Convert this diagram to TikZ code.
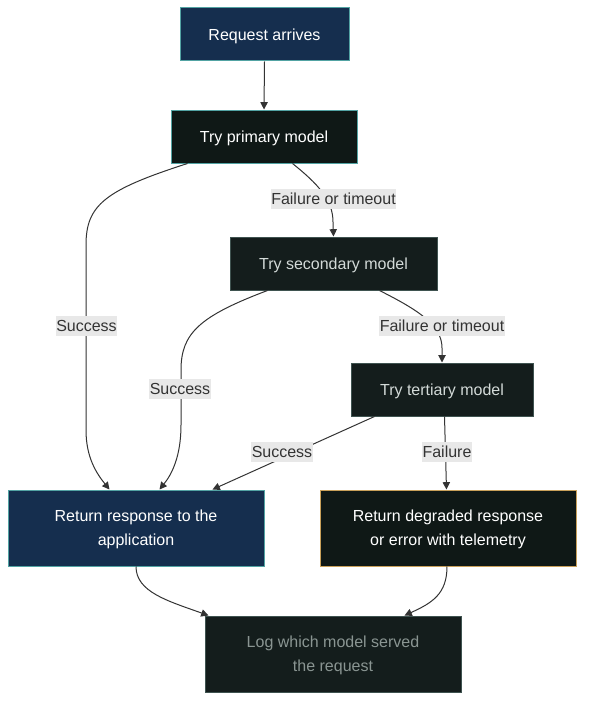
\documentclass[tikz,border=0pt]{standalone}
\usepackage{fontspec}
\setmainfont{Liberation Sans}
\usetikzlibrary{calc,arrows.meta}
\definecolor{navy}{HTML}{152E4E}
\definecolor{teal}{HTML}{52A3A3}
\definecolor{darkA}{HTML}{0F1816}
\definecolor{darkB}{HTML}{141D1C}
\definecolor{grayborder}{HTML}{3F5350}
\definecolor{gold}{HTML}{C9A05A}
\definecolor{logtext}{HTML}{8A9592}
\definecolor{lighttext}{HTML}{D3DAD8}
\definecolor{edgecol}{HTML}{333333}
\definecolor{lblbg}{HTML}{E8E8E8}
\tikzset{
  box/.style={rectangle, inner sep=0pt, line width=0.75pt, align=center,
    font=\fontsize{12}{18}\selectfont, minimum height=39.75pt,
    text height=8.6pt, text depth=0pt},
  tallbox/.style={box, minimum width=192pt, minimum height=57pt,
    text height=26.6pt, text depth=0pt},
  navybox/.style={fill=navy, draw=teal, text=white},
  primbox/.style={fill=darkA, draw=teal, text=white},
  grbox/.style={fill=darkB, draw=grayborder, text=lighttext},
  degbox/.style={fill=darkA, draw=gold, text=white},
  logbox/.style={fill=darkB, draw=grayborder, text=logtext},
  conn/.style={draw=edgecol, line width=0.75pt, -{Triangle[length=5.5pt,width=5.5pt]}},
  lbl/.style={fill=lblbg, text=edgecol, font=\fontsize{12}{14}\selectfont,
    inner xsep=0.5pt, inner ysep=0pt, minimum height=15pt,
    text height=8.6pt, text depth=0pt}
}
\begin{document}
\begin{tikzpicture}[x=0.75pt,y=-0.75pt]
\useasboundingbox (0,0) rectangle (592,710);
% nodes
\node[box, navybox, minimum width=126.75pt] (req) at (264.5,34.5) {Request arrives};
\node[box, primbox, minimum width=139.5pt] (prim) at (264,136.5) {Try primary model};
\node[box, grbox, minimum width=155.25pt] (sec) at (333.5,263.5) {Try secondary model};
\node[box, grbox, minimum width=136.5pt] (ter) at (442,389.5) {Try tertiary model};
\node[tallbox, navybox] (ret) at (136,528) {Return response to the\\application};
\node[tallbox, degbox] (deg) at (448,528) {Return degraded response\\or error with telemetry};
\node[tallbox, logbox] (log) at (333,654) {Log which model served\\the request};
% connectors
\draw[conn] (req.south) -- (prim.north);
\draw[conn] ($(prim.south west)+(122,0)$) .. controls (318,184) and (333,200) .. (333,222) -- (sec.north);
\draw[conn] ($(prim.south west)+(17,0)$) .. controls (105,190) and (86,205) .. (86,245) -- (86,430) .. controls (86,458) and (97,474) .. ($(ret.north west)+(102,0)$);
\draw[conn] ($(sec.south west)+(38,0)$) .. controls (200,316) and (181,333) .. (181,370) -- (181,425) .. controls (181,456) and (172,474) .. ($(ret.north west)+(152,0)$);
\draw[conn] ($(sec.south west)+(150,0)$) .. controls (418,310) and (442,325) .. (442,348) -- (ter.north);
\draw[conn] ($(ter.south west)+(24,0)$) -- ($(ret.north west)+(205,0)$);
\draw[conn] ($(ter.south west)+(94,0)$) -- ($(deg.north west)+(127,0)$);
\draw[conn] (ret.south) .. controls (136,592) and (168,601) .. ($(log.north west)+(4,0)$);
\draw[conn] ($(deg.south)+(-1,0)$) .. controls (447,594) and (432,603) .. ($(log.north west)+(200,0)$);
% labels
\node[lbl] (l1) at (333.5,199) {Failure or timeout};
\node[lbl] (l2) at (86.5,326) {Success};
\node[lbl] (l3) at (442,326) {Failure or timeout};
\node[lbl] (l4) at (180,389) {Success};
\node[lbl] (l5) at (282,452) {Success};
\node[lbl] (l6) at (447,452) {Failure};
\end{tikzpicture}
\end{document}
